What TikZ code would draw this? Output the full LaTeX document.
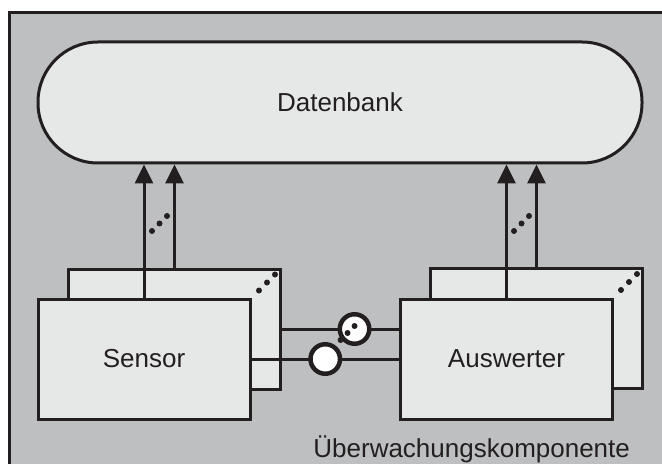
\documentclass[tikz,border=0pt]{standalone}
\usepackage{fontspec}
\setmainfont{Liberation Sans}
\usetikzlibrary{arrows.meta,positioning}
\definecolor{bggray}{RGB}{190,191,193}
\definecolor{boxgray}{RGB}{230,231,231}
\definecolor{ink}{RGB}{35,31,32}

\begin{document}
\begin{tikzpicture}[
  x=0.5pt, y=-0.5pt,
  every node/.style={font=\fontsize{13}{15}\selectfont, text=ink},
  unit/.style={draw=ink, fill=boxgray, line width=1.5pt, minimum width=106pt, minimum height=60pt, inner sep=0pt},
  store/.style={unit, rounded corners=30pt, minimum width=302pt, minimum height=60.5pt},
  link/.style={draw=ink, line width=1.5pt},
  flow/.style={link, -{Triangle[length=9.5pt, width=9pt]}},
  port/.style={circle, draw=ink, fill=white, line width=2.25pt, minimum size=14.75pt, inner sep=0pt}
]
\useasboundingbox (0,0) rectangle (662,464);
\fill[bggray] (9,13) rectangle (662,464);
\draw[link, line cap=rect] (9,464) -- (9,13) -- (662,13);

\node[store] (db) at (340,102.5) {Datenbank};
\node[unit] (sensorB) at (174.5,329) {};
\node[unit] (auswerterB) at (536.5,328.5) {};
\node[unit] (sensor) at (144,359) {Sensor};
\node[unit] (auswerter) at (506.5,359) {Auswerter};
\node[anchor=base east] (komp) at (637,457) {Überwachungskomponente};

% Datenfluss zur Datenbank
\draw[flow] (sensor.north) -- (sensor.north |- db.south);
\draw[flow] (sensorB.north) -- (sensorB.north |- db.south);
\draw[flow] (auswerter.north) -- (auswerter.north |- db.south);
\draw[flow] (auswerterB.north) -- (auswerterB.north |- db.south);

% Verbindungen
\draw[link] (sensorB.east) -- (sensorB.east -| auswerter.west) node[port, pos=0.62] (portA) {};
\draw[link] (sensor.east) -- (auswerter.west) node[port, midway] (portB) {};

\foreach \d in {-1,0,1} {
  \fill[ink] (159.5+\d*7.5, 223.5-\d*7.5) circle[radius=1.5pt];
  \fill[ink] (521.5+\d*7.5, 223.5-\d*7.5) circle[radius=1.5pt];
  \fill[ink] ([shift={(-15+\d*8, 15-\d*8)}]sensorB.north east) circle[radius=1.5pt];
  \fill[ink] ([shift={(-15+\d*8, 15-\d*8)}]auswerterB.north east) circle[radius=1.5pt];
  \fill[ink] ([shift={(-7+\d*7, 4-\d*7)}]portA.center) circle[radius=1.5pt];
}
\end{tikzpicture}
\end{document}
